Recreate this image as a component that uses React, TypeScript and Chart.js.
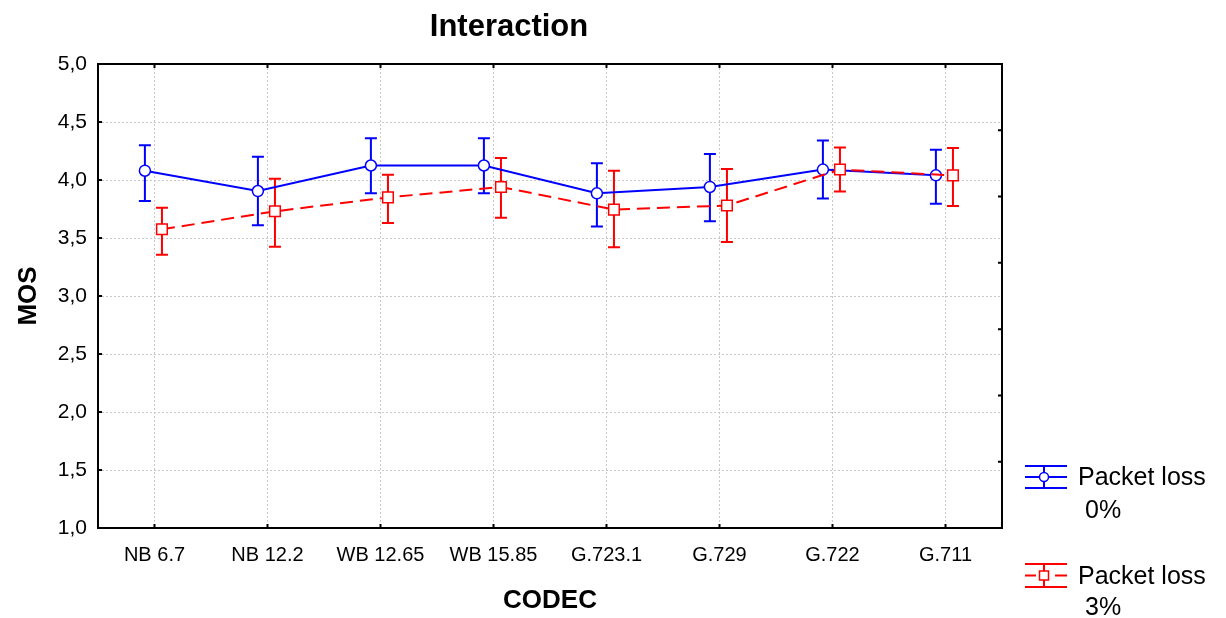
import React, { useEffect, useRef } from "react";
import { Chart, registerables } from "chart.js";

Chart.register(...registerables);

const categories = ["NB 6.7", "NB 12.2", "WB 12.65", "WB 15.85", "G.723.1", "G.729", "G.722", "G.711"];
const yTicks = [1.0, 1.5, 2.0, 2.5, 3.0, 3.5, 4.0, 4.5, 5.0];

const loss0Mean = [4.08, 3.905, 4.125, 4.125, 3.885, 3.94, 4.09, 4.04];
const loss0Low = [3.82, 3.61, 3.885, 3.885, 3.6, 3.645, 3.84, 3.795];
const loss0High = [4.3, 4.2, 4.36, 4.36, 4.145, 4.225, 4.34, 4.26];

const loss3Mean = [3.575, 3.73, 3.85, 3.94, 3.745, 3.78, 4.09, 4.04];
const loss3Low = [3.355, 3.425, 3.63, 3.675, 3.42, 3.465, 3.9, 3.775];
const loss3High = [3.76, 4.01, 4.045, 4.19, 4.08, 4.095, 4.28, 4.275];

const OFF0 = -0.085;
const OFF3 = 0.066;
const FONT = "'Liberation Sans', Arial, sans-serif";
const BLUE = "#0000ff";
const RED = "#ff0000";

const decorPlugin = {
  id: "decor",
  beforeDatasetsDraw(chart: any) {
    const ctx = chart.ctx;
    const xs = chart.scales.x;
    const ys = chart.scales.y;
    const drawBars = (low: number[], high: number[], off: number, color: string) => {
      ctx.save();
      ctx.strokeStyle = color;
      ctx.lineWidth = 2;
      ctx.setLineDash([]);
      low.forEach((lo, i) => {
        const x = xs.getPixelForValue(i + off);
        const y1 = ys.getPixelForValue(lo);
        const y2 = ys.getPixelForValue(high[i]);
        ctx.beginPath();
        ctx.moveTo(x, y1);
        ctx.lineTo(x, y2);
        ctx.moveTo(x - 6, y1);
        ctx.lineTo(x + 6, y1);
        ctx.moveTo(x - 6, y2);
        ctx.lineTo(x + 6, y2);
        ctx.stroke();
      });
      ctx.restore();
    };
    drawBars(loss0Low, loss0High, OFF0, BLUE);
    drawBars(loss3Low, loss3High, OFF3, RED);
  },
  afterDraw(chart: any) {
    const ctx = chart.ctx;
    const a = chart.chartArea;
    const xs = chart.scales.x;
    const ys = chart.scales.y;
    ctx.save();
    ctx.strokeStyle = "#000";
    ctx.lineWidth = 2;
    ctx.setLineDash([]);
    ctx.strokeRect(a.left, a.top, a.right - a.left, a.bottom - a.top);
    ctx.beginPath();
    yTicks.forEach((v) => {
      const y = ys.getPixelForValue(v);
      ctx.moveTo(a.left, y);
      ctx.lineTo(a.left + 4, y);
    });
    for (let k = 1; k < 7; k++) {
      const y = a.top + ((a.bottom - a.top) * k) / 7;
      ctx.moveTo(a.right, y);
      ctx.lineTo(a.right - 4, y);
    }
    categories.forEach((_, i) => {
      const x = xs.getPixelForValue(i);
      ctx.moveTo(x, a.bottom);
      ctx.lineTo(x, a.bottom - 4);
      ctx.moveTo(x, a.top);
      ctx.lineTo(x, a.top + 4);
    });
    ctx.stroke();

    ctx.fillStyle = "#000";
    ctx.textAlign = "center";
    ctx.textBaseline = "alphabetic";
    ctx.font = `bold 31px ${FONT}`;
    ctx.fillText("Interaction", 509, 36);
    ctx.font = `bold 26px ${FONT}`;
    ctx.fillText("CODEC", (a.left + a.right) / 2, 608);
    ctx.save();
    ctx.translate(36, (a.top + a.bottom) / 2);
    ctx.rotate(-Math.PI / 2);
    ctx.fillText("MOS", 0, 0);
    ctx.restore();

    const drawEntry = (yTop: number, yBot: number, color: string, dashed: boolean, marker: string, l1: string, l2: string, b1: number, b2: number) => {
      const x0 = 1025, x1 = 1067, xc = 1044;
      const ym = (yTop + yBot) / 2;
      ctx.strokeStyle = color;
      ctx.lineWidth = 2;
      ctx.beginPath();
      ctx.moveTo(x0, yTop); ctx.lineTo(x1, yTop);
      ctx.moveTo(x0, yBot); ctx.lineTo(x1, yBot);
      ctx.moveTo(xc, yTop); ctx.lineTo(xc, yBot);
      if (dashed) {
        ctx.moveTo(x0, ym); ctx.lineTo(x0 + 11, ym);
        ctx.moveTo(x1 - 12, ym); ctx.lineTo(x1, ym);
      } else {
        ctx.moveTo(x0, ym); ctx.lineTo(x1, ym);
      }
      ctx.stroke();
      ctx.fillStyle = "#fff";
      ctx.lineWidth = 1.5;
      ctx.beginPath();
      if (marker === "circle") {
        ctx.arc(xc, ym, 4.5, 0, Math.PI * 2);
      } else {
        ctx.rect(xc - 4.5, ym - 4.5, 9, 9);
      }
      ctx.fill();
      ctx.stroke();
      ctx.fillStyle = "#000";
      ctx.font = `25px ${FONT}`;
      ctx.textAlign = "left";
      ctx.fillText(l1, 1078, b1);
      ctx.fillText(l2, 1085, b2);
    };
    drawEntry(466, 488, BLUE, false, "circle", "Packet loss", "0%", 485, 518);
    drawEntry(564, 587, RED, true, "rect", "Packet loss", "3%", 584, 615);
    ctx.restore();
  },
};

export default function App() {
  const ref = useRef<HTMLCanvasElement | null>(null);
  useEffect(() => {
    document.body.style.margin = "0";
    const canvas = ref.current;
    if (!canvas) return;
    const chart = new Chart(canvas, {
      type: "line",
      data: {
        datasets: [
          {
            label: "Packet loss 0%",
            data: loss0Mean.map((v, i) => ({ x: i + OFF0, y: v })),
            borderColor: BLUE,
            borderWidth: 2,
            backgroundColor: "#ffffff",
            pointStyle: "circle",
            pointRadius: 5.5,
            pointBorderWidth: 1.5,
            pointBackgroundColor: "#ffffff",
            pointBorderColor: BLUE,
            tension: 0,
            order: 2,
          },
          {
            label: "Packet loss 3%",
            data: loss3Mean.map((v, i) => ({ x: i + OFF3, y: v })),
            borderColor: RED,
            borderWidth: 2,
            borderDash: [13, 7],
            backgroundColor: "#ffffff",
            pointStyle: "rect",
            pointRadius: 7.5,
            pointBorderWidth: 1.5,
            pointBackgroundColor: "#ffffff",
            pointBorderColor: RED,
            tension: 0,
            order: 1,
          },
        ],
      },
      options: {
        responsive: false,
        animation: false,
        layout: { padding: { top: 64, right: 224, left: 0, bottom: 0 } },
        plugins: { legend: { display: false }, tooltip: { enabled: false }, title: { display: false } },
        scales: {
          x: {
            type: "linear",
            min: -0.5,
            max: 7.5,
            afterBuildTicks: (s: any) => {
              s.ticks = categories.map((_, i) => ({ value: i }));
            },
            afterFit: (s: any) => {
              s.height = 90;
            },
            ticks: {
              autoSkip: false,
              maxRotation: 0,
              padding: 15,
              color: "#000",
              font: { family: FONT, size: 20 },
              callback: (v: any) => categories[Math.round(Number(v))] ?? "",
            },
            grid: { color: "#c8c8c8", lineWidth: 1, drawTicks: false },
            border: { display: false, dash: [2, 2] },
          },
          y: {
            type: "linear",
            min: 1,
            max: 5,
            afterBuildTicks: (s: any) => {
              s.ticks = yTicks.map((v) => ({ value: v }));
            },
            afterFit: (s: any) => {
              s.width = 98;
            },
            ticks: {
              padding: 11,
              color: "#000",
              font: { family: FONT, size: 21 },
              callback: (v: any) => Number(v).toFixed(1).replace(".", ","),
            },
            grid: { color: "#c8c8c8", lineWidth: 1, drawTicks: false },
            border: { display: false, dash: [2, 2] },
          },
        },
      },
      plugins: [decorPlugin],
    } as any);
    return () => chart.destroy();
  }, []);
  return (
    <div style={{ width: 1226, height: 618 }}>
      <canvas ref={ref} width={1226} height={618} style={{ display: "block" }} />
    </div>
  );
}
